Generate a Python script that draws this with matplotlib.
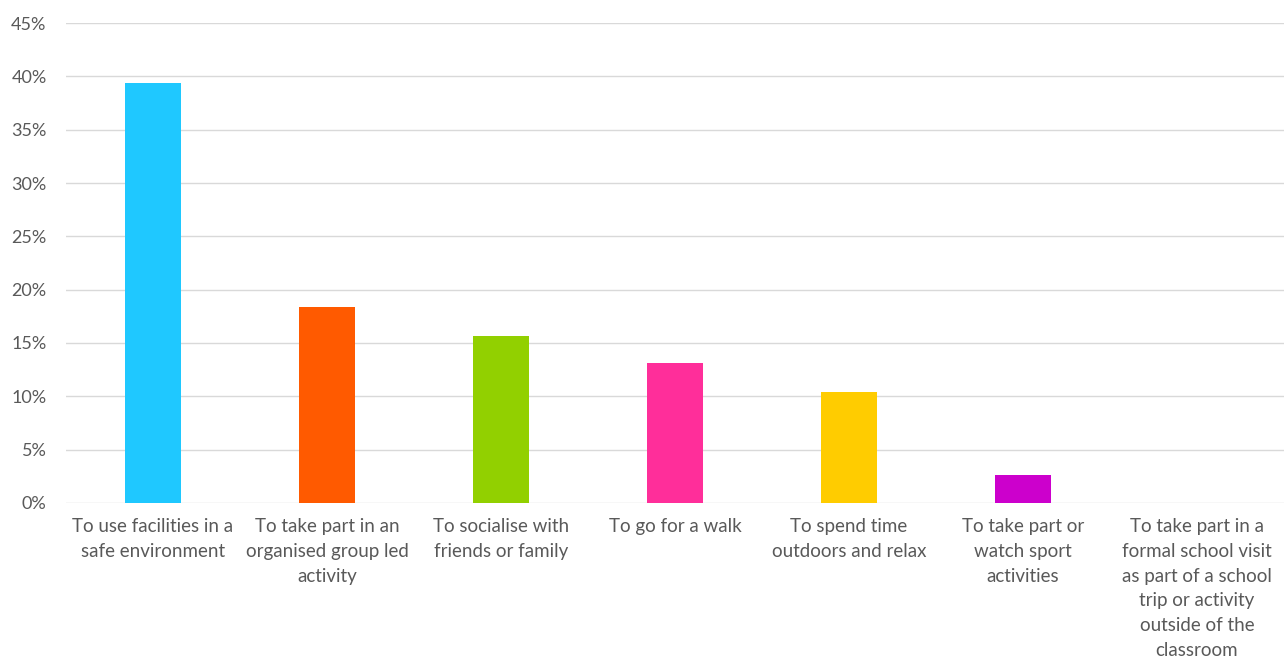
import matplotlib
matplotlib.use("Agg")
import matplotlib.pyplot as plt
from matplotlib.ticker import PercentFormatter

categories = [
    "To use facilities in a\nsafe environment",
    "To take part in an\norganised group led\nactivity",
    "To socialise with\nfriends or family",
    "To go for a walk",
    "To spend time\noutdoors and relax",
    "To take part or\nwatch sport\nactivities",
    "To take part in a\nformal school visit\nas part of a school\ntrip or activity\noutside of the\nclassroom",
]
values = [39.4, 18.4, 15.7, 13.1, 10.4, 2.6, 0.0]
colors = ["#1fc8ff", "#ff5a00", "#92d000", "#ff2e9a", "#ffcc00", "#cc00cc", "#999999"]
yticks = [0, 5, 10, 15, 20, 25, 30, 35, 40, 45]

plt.rcParams['font.family'] = ['Lato', 'DejaVu Sans']
grey = "#595959"

fig = plt.figure(figsize=(12.84, 6.71), dpi=100)
ax = fig.add_axes([0.0514, 0.2504, 0.9486, 0.7153])

x = list(range(len(categories)))
ax.bar(x, values, width=0.32, color=colors, zorder=3)

ax.set_xlim(-0.5, len(categories) - 0.5)
ax.set_ylim(0, 45)
ax.set_yticks(yticks)
ax.yaxis.set_major_formatter(PercentFormatter(decimals=0))
ax.set_xticks(x)
ax.set_xticklabels(categories, linespacing=1.55)
ax.tick_params(axis='both', length=0, colors=grey)
ax.tick_params(axis='x', pad=11, labelsize=13.5)
ax.tick_params(axis='y', pad=14, labelsize=13)
ax.grid(axis='y', color="#d9d9d9", linewidth=1, zorder=0)
for s in ax.spines.values():
    s.set_visible(False)

fig.savefig("out.png", dpi=100)
